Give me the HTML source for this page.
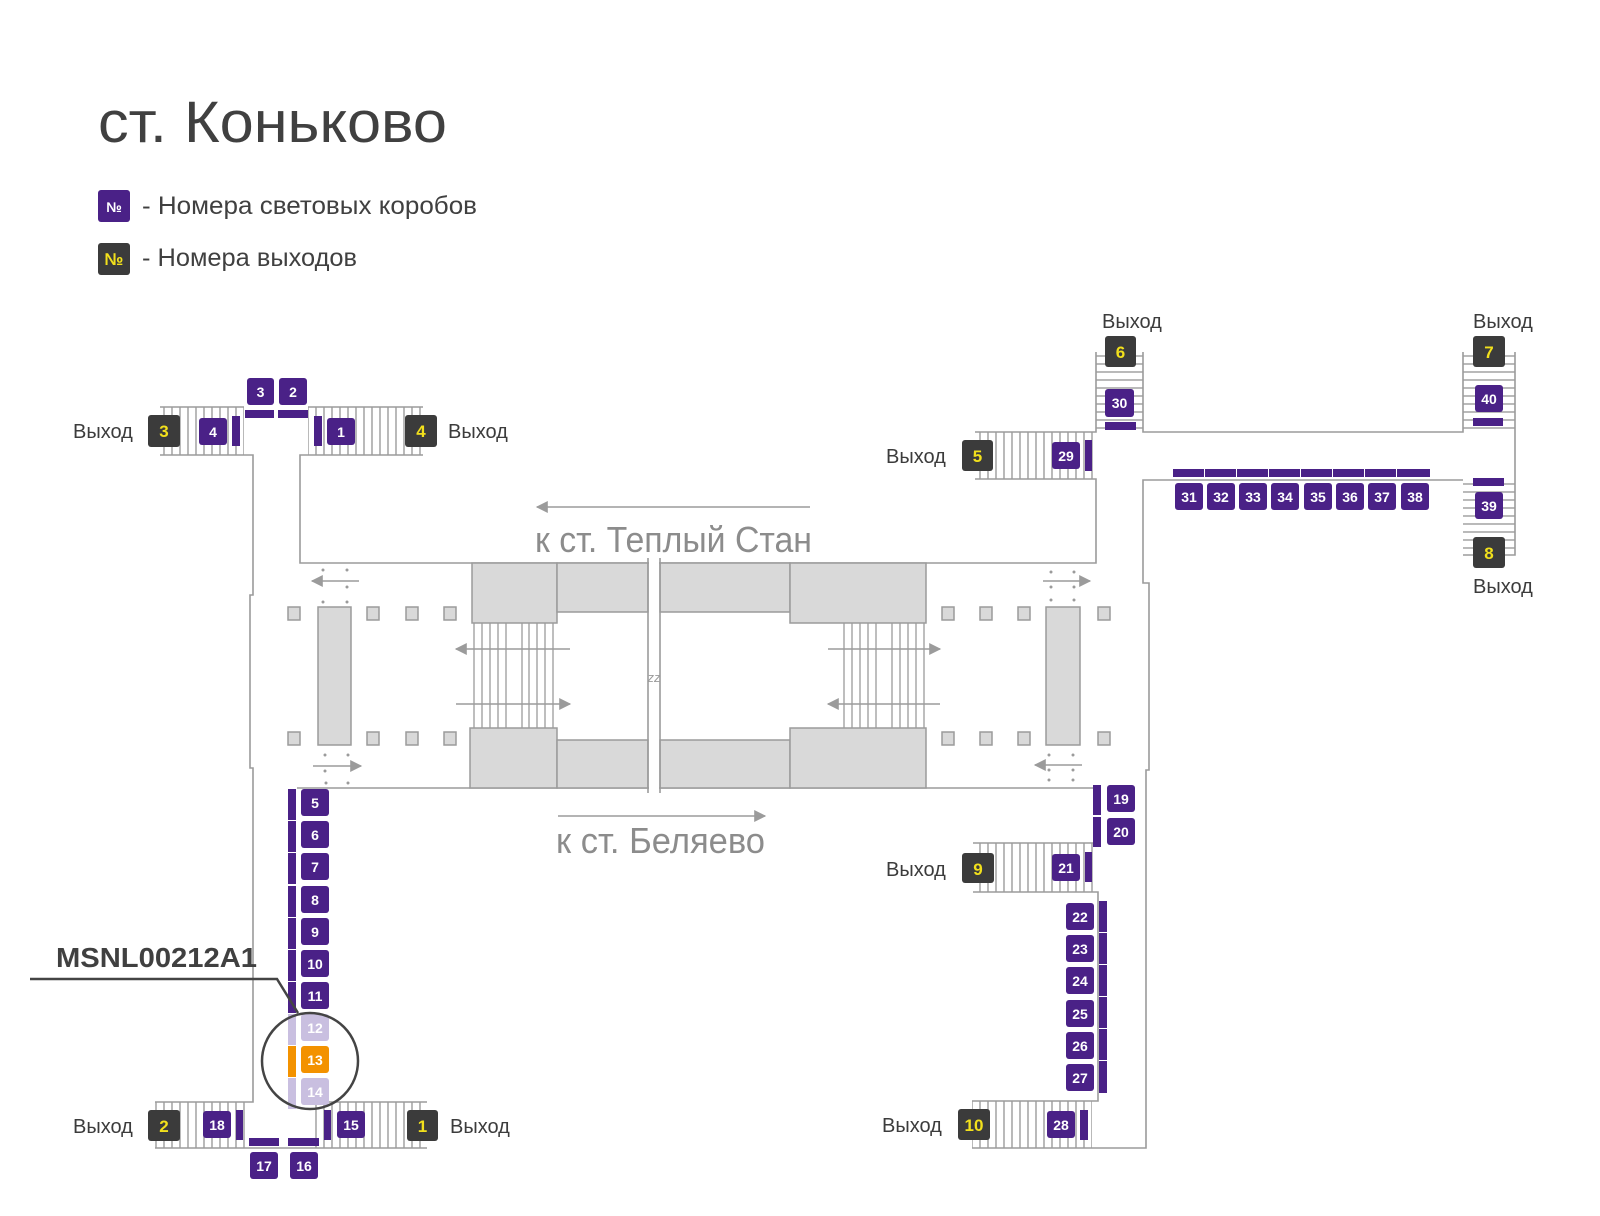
<!DOCTYPE html>
<html><head><meta charset="utf-8"><style>
html,body{margin:0;padding:0;background:#fff;}
svg{display:block;}
text{font-family:"Liberation Sans","DejaVu Sans",sans-serif;}
.p{fill:#4a2187}
.d{fill:#3b3b3b}
.bn{fill:#fff;font-size:14px;font-weight:bold;text-anchor:middle}
.en{fill:#f2e01c;font-size:17px;font-weight:bold;text-anchor:middle}
.ln{stroke:#9b9b9b;stroke-width:1.6;fill:none}
.g{fill:#d9d9d9;stroke:#9b9b9b;stroke-width:1.5}
.ex{fill:#3c3c3c;font-size:20px}
.dot{fill:#9b9b9b}
</style></head><body>
<svg width="1600" height="1216" viewBox="0 0 1600 1216" xmlns="http://www.w3.org/2000/svg">
<defs>
<pattern id="vh" width="8" height="10" patternUnits="userSpaceOnUse"><line x1="4" y1="0" x2="4" y2="10" stroke="#9b9b9b" stroke-width="1.4"/></pattern>
<pattern id="hh" width="10" height="8" patternUnits="userSpaceOnUse"><line x1="0" y1="4" x2="10" y2="4" stroke="#9b9b9b" stroke-width="1.4"/></pattern>
<marker id="ah" viewBox="0 0 10 10" refX="9" refY="5" markerWidth="9" markerHeight="8" orient="auto-start-reverse"><path d="M0,0 L10,5 L0,10 z" fill="#9b9b9b"/></marker>
</defs>

<text x="98" y="142" font-size="58" fill="#404040" textLength="349" lengthAdjust="spacingAndGlyphs">ст. Коньково</text>
<rect x="98" y="190" width="32" height="32" rx="3" class="p"/><text x="114" y="212" class="bn" font-size="15">№</text>
<text x="142" y="214" font-size="25" fill="#404040" textLength="335" lengthAdjust="spacingAndGlyphs">- Номера световых коробов</text>
<rect x="98" y="243" width="32" height="32" rx="3" class="d"/><text x="114" y="265" class="en" font-size="15">№</text>
<text x="142" y="266" font-size="25" fill="#404040" textLength="215" lengthAdjust="spacingAndGlyphs">- Номера выходов</text>

<g>
<rect x="160" y="407" width="84" height="48" fill="url(#vh)"/>
<rect x="308" y="407" width="115" height="48" fill="url(#vh)"/>
<rect x="975" y="432" width="120" height="47" fill="url(#vh)"/>
<rect x="973" y="843" width="120" height="49" fill="url(#vh)"/>
<rect x="972" y="1101" width="120" height="47" fill="url(#vh)"/>
<rect x="155" y="1102" width="92" height="46" fill="url(#vh)"/>
<rect x="312" y="1102" width="115" height="46" fill="url(#vh)"/>
<rect x="1096" y="352" width="47" height="80" fill="url(#hh)"/>
<rect x="1463" y="352" width="52" height="80" fill="url(#hh)"/>
<rect x="1463" y="480" width="52" height="75" fill="url(#hh)"/>
</g>

<g class="ln">
<path d="M160 407 H244 M308 407 H423"/>
<path d="M160 455 H253 V595 H250 V768 H253 V1102 H155"/>
<path d="M423 455 H300 V563 H1096 V479 H975"/>
<path d="M975 432 H1096 V352"/>
<path d="M1143 352 V432 H1463 V352"/>
<path d="M1515 352 V555 H1463"/>
<path d="M1463 480 H1143 V583 H1149 V770 H1146 V1148 H972"/>
<path d="M972 1101 H1098 V892 H973"/>
<path d="M973 843 H1093"/>
<path d="M297 788 H1093"/>
<path d="M155 1148 H427 M312 1102 H427"/>
</g>

<g>
<rect x="472" y="563" width="85" height="60" class="g"/>
<rect x="557" y="563" width="91" height="49" class="g"/>
<rect x="660" y="563" width="130" height="49" class="g"/>
<rect x="790" y="563" width="136" height="60" class="g"/>
<rect x="470" y="728" width="87" height="60" class="g"/>
<rect x="557" y="740" width="91" height="48" class="g"/>
<rect x="660" y="740" width="130" height="48" class="g"/>
<rect x="790" y="728" width="136" height="60" class="g"/>
<rect x="649" y="558" width="10" height="235" fill="#fff"/>
<line x1="648" y1="558" x2="648" y2="793" class="ln"/>
<line x1="660" y1="558" x2="660" y2="793" class="ln"/>
<text x="654" y="682" font-size="13" font-style="italic" fill="#9b9b9b" text-anchor="middle">zz</text>
</g>
<g stroke="#9b9b9b" stroke-width="1.3">
<path d="M474 623V728M482 623V728M490 623V728M498 623V728M506 623V728M522 623V728M529 623V728M537 623V728M545 623V728M553 623V728"/>
<path d="M844 623V728M852 623V728M860 623V728M868 623V728M876 623V728M892 623V728M900 623V728M908 623V728M916 623V728M924 623V728"/>
</g>
<g stroke="#9b9b9b" stroke-width="1.5" fill="none">
<line x1="570" y1="649" x2="456" y2="649" marker-end="url(#ah)"/>
<line x1="456" y1="704" x2="570" y2="704" marker-end="url(#ah)"/>
<line x1="828" y1="649" x2="940" y2="649" marker-end="url(#ah)"/>
<line x1="940" y1="704" x2="828" y2="704" marker-end="url(#ah)"/>
<line x1="359" y1="581" x2="312" y2="581" marker-end="url(#ah)"/>
<line x1="313" y1="766" x2="361" y2="766" marker-end="url(#ah)"/>
<line x1="1043" y1="581" x2="1090" y2="581" marker-end="url(#ah)"/>
<line x1="1082" y1="765" x2="1035" y2="765" marker-end="url(#ah)"/>
<line x1="810" y1="507" x2="537" y2="507" marker-end="url(#ah)"/>
<line x1="558" y1="816" x2="765" y2="816" marker-end="url(#ah)"/>
</g>
<g class="dot">
<circle cx="323" cy="570" r="1.5"/><circle cx="347" cy="570" r="1.5"/><circle cx="347" cy="587" r="1.5"/><circle cx="323" cy="602" r="1.5"/><circle cx="347" cy="602" r="1.5"/>
<circle cx="325" cy="755" r="1.5"/><circle cx="348" cy="755" r="1.5"/><circle cx="325" cy="771" r="1.5"/><circle cx="326" cy="783" r="1.5"/><circle cx="348" cy="783" r="1.5"/>
<circle cx="1051" cy="572" r="1.5"/><circle cx="1074" cy="572" r="1.5"/><circle cx="1051" cy="587" r="1.5"/><circle cx="1074" cy="587" r="1.5"/><circle cx="1051" cy="600" r="1.5"/><circle cx="1074" cy="600" r="1.5"/>
<circle cx="1049" cy="755" r="1.5"/><circle cx="1073" cy="755" r="1.5"/><circle cx="1049" cy="770" r="1.5"/><circle cx="1073" cy="770" r="1.5"/><circle cx="1049" cy="780" r="1.5"/><circle cx="1073" cy="780" r="1.5"/>
</g>
<g class="g">
<rect x="288" y="607" width="12" height="13"/><rect x="367" y="607" width="12" height="13"/><rect x="406" y="607" width="12" height="13"/><rect x="444" y="607" width="12" height="13"/>
<rect x="288" y="732" width="12" height="13"/><rect x="367" y="732" width="12" height="13"/><rect x="406" y="732" width="12" height="13"/><rect x="444" y="732" width="12" height="13"/>
<rect x="318" y="607" width="33" height="138"/>
<rect x="942" y="607" width="12" height="13"/><rect x="980" y="607" width="12" height="13"/><rect x="1018" y="607" width="12" height="13"/><rect x="1098" y="607" width="12" height="13"/>
<rect x="942" y="732" width="12" height="13"/><rect x="980" y="732" width="12" height="13"/><rect x="1018" y="732" width="12" height="13"/><rect x="1098" y="732" width="12" height="13"/>
<rect x="1046" y="607" width="34" height="138"/>
</g>

<text x="535" y="552" font-size="36" fill="#8c8c8c" textLength="277" lengthAdjust="spacingAndGlyphs">к ст. Теплый Стан</text>
<text x="556" y="853" font-size="36" fill="#8c8c8c" textLength="209" lengthAdjust="spacingAndGlyphs">к ст. Беляево</text>

<g class="p">
<rect x="232" y="416" width="8" height="30"/><rect x="314" y="416" width="8" height="30"/>
<rect x="245" y="410" width="29" height="8"/><rect x="278" y="410" width="30" height="8"/>
<rect x="1085" y="440" width="7" height="31"/>
<rect x="1105" y="422" width="31" height="8"/>
<rect x="1473" y="418" width="30" height="8"/>
<rect x="1473" y="478" width="31" height="8"/>
<rect x="1173" y="469" width="31" height="8"/><rect x="1205" y="469" width="31" height="8"/><rect x="1237" y="469" width="31" height="8"/><rect x="1269" y="469" width="31" height="8"/><rect x="1301" y="469" width="31" height="8"/><rect x="1333" y="469" width="31" height="8"/><rect x="1365" y="469" width="31" height="8"/><rect x="1397" y="469" width="33" height="8"/>
<rect x="1093" y="785" width="8" height="30"/><rect x="1093" y="817" width="8" height="30"/>
<rect x="1085" y="852" width="7" height="30"/>
<rect x="1099" y="901" width="8" height="31"/><rect x="1099" y="933" width="8" height="31"/><rect x="1099" y="965" width="8" height="31"/><rect x="1099" y="997" width="8" height="31"/><rect x="1099" y="1029" width="8" height="31"/><rect x="1099" y="1061" width="8" height="32"/>
<rect x="1080" y="1110" width="8" height="30"/>
<rect x="236" y="1110" width="7" height="30"/><rect x="324" y="1110" width="7" height="30"/>
<rect x="249" y="1138" width="30" height="8"/><rect x="288" y="1138" width="31" height="8"/>
<rect x="288" y="789" width="8" height="31"/><rect x="288" y="821" width="8" height="31"/><rect x="288" y="853" width="8" height="31"/><rect x="288" y="886" width="8" height="31"/><rect x="288" y="918" width="8" height="31"/><rect x="288" y="950" width="8" height="31"/><rect x="288" y="982" width="8" height="31"/>
</g>
<rect x="288" y="1014" width="8" height="31" fill="#c9bfe0"/>
<rect x="288" y="1046" width="8" height="31" fill="#f39200"/>
<rect x="288" y="1078" width="8" height="31" fill="#c9bfe0"/>

<g>
<rect x="247" y="378" width="27" height="27" rx="3" class="p"/><text x="260.5" y="397" class="bn">3</text>
<rect x="279" y="378" width="28" height="27" rx="3" class="p"/><text x="293" y="397" class="bn">2</text>
<rect x="199" y="418" width="28" height="27" rx="3" class="p"/><text x="213" y="437" class="bn">4</text>
<rect x="327" y="418" width="28" height="27" rx="3" class="p"/><text x="341" y="437" class="bn">1</text>
<rect x="1052" y="442" width="28" height="27" rx="3" class="p"/><text x="1066" y="461" class="bn">29</text>
<rect x="1105" y="389" width="29" height="28" rx="3" class="p"/><text x="1119.5" y="408" class="bn">30</text>
<rect x="1475" y="385" width="28" height="27" rx="3" class="p"/><text x="1489" y="404" class="bn">40</text>
<rect x="1475" y="492" width="28" height="27" rx="3" class="p"/><text x="1489" y="511" class="bn">39</text>
<rect x="1175" y="483" width="28" height="27" rx="3" class="p"/><text x="1189" y="502" class="bn">31</text>
<rect x="1207" y="483" width="28" height="27" rx="3" class="p"/><text x="1221" y="502" class="bn">32</text>
<rect x="1239" y="483" width="28" height="27" rx="3" class="p"/><text x="1253" y="502" class="bn">33</text>
<rect x="1271" y="483" width="28" height="27" rx="3" class="p"/><text x="1285" y="502" class="bn">34</text>
<rect x="1304" y="483" width="28" height="27" rx="3" class="p"/><text x="1318" y="502" class="bn">35</text>
<rect x="1336" y="483" width="28" height="27" rx="3" class="p"/><text x="1350" y="502" class="bn">36</text>
<rect x="1368" y="483" width="28" height="27" rx="3" class="p"/><text x="1382" y="502" class="bn">37</text>
<rect x="1401" y="483" width="28" height="27" rx="3" class="p"/><text x="1415" y="502" class="bn">38</text>
<rect x="1107" y="785" width="28" height="27" rx="3" class="p"/><text x="1121" y="804" class="bn">19</text>
<rect x="1107" y="818" width="28" height="27" rx="3" class="p"/><text x="1121" y="837" class="bn">20</text>
<rect x="1052" y="854" width="28" height="27" rx="3" class="p"/><text x="1066" y="873" class="bn">21</text>
<rect x="1066" y="903" width="28" height="27" rx="3" class="p"/><text x="1080" y="922" class="bn">22</text>
<rect x="1066" y="935" width="28" height="27" rx="3" class="p"/><text x="1080" y="954" class="bn">23</text>
<rect x="1066" y="967" width="28" height="27" rx="3" class="p"/><text x="1080" y="986" class="bn">24</text>
<rect x="1066" y="1000" width="28" height="27" rx="3" class="p"/><text x="1080" y="1019" class="bn">25</text>
<rect x="1066" y="1032" width="28" height="27" rx="3" class="p"/><text x="1080" y="1051" class="bn">26</text>
<rect x="1066" y="1064" width="28" height="27" rx="3" class="p"/><text x="1080" y="1083" class="bn">27</text>
<rect x="1047" y="1111" width="28" height="27" rx="3" class="p"/><text x="1061" y="1130" class="bn">28</text>
<rect x="301" y="789" width="28" height="27" rx="3" class="p"/><text x="315" y="808" class="bn">5</text>
<rect x="301" y="821" width="28" height="27" rx="3" class="p"/><text x="315" y="840" class="bn">6</text>
<rect x="301" y="853" width="28" height="27" rx="3" class="p"/><text x="315" y="872" class="bn">7</text>
<rect x="301" y="886" width="28" height="27" rx="3" class="p"/><text x="315" y="905" class="bn">8</text>
<rect x="301" y="918" width="28" height="27" rx="3" class="p"/><text x="315" y="937" class="bn">9</text>
<rect x="301" y="950" width="28" height="27" rx="3" class="p"/><text x="315" y="969" class="bn">10</text>
<rect x="301" y="982" width="28" height="27" rx="3" class="p"/><text x="315" y="1001" class="bn">11</text>
<rect x="301" y="1014" width="28" height="27" rx="3" fill="#c9bfe0"/><text x="315" y="1033" class="bn">12</text>
<rect x="301" y="1046" width="28" height="27" rx="3" fill="#f39200"/><text x="315" y="1065" class="bn">13</text>
<rect x="301" y="1078" width="28" height="27" rx="3" fill="#c9bfe0"/><text x="315" y="1097" class="bn">14</text>
<rect x="203" y="1111" width="28" height="27" rx="3" class="p"/><text x="217" y="1130" class="bn">18</text>
<rect x="337" y="1111" width="28" height="27" rx="3" class="p"/><text x="351" y="1130" class="bn">15</text>
<rect x="250" y="1152" width="28" height="27" rx="3" class="p"/><text x="264" y="1171" class="bn">17</text>
<rect x="290" y="1152" width="28" height="27" rx="3" class="p"/><text x="304" y="1171" class="bn">16</text>
</g>

<g>
<rect x="148" y="415" width="32" height="32" rx="3" class="d"/><text x="164" y="437" class="en">3</text>
<rect x="405" y="415" width="32" height="32" rx="3" class="d"/><text x="421" y="437" class="en">4</text>
<rect x="962" y="440" width="31" height="31" rx="3" class="d"/><text x="977.5" y="462" class="en">5</text>
<rect x="1105" y="336" width="31" height="31" rx="3" class="d"/><text x="1120.5" y="358" class="en">6</text>
<rect x="1473" y="336" width="32" height="31" rx="3" class="d"/><text x="1489" y="358" class="en">7</text>
<rect x="1473" y="537" width="32" height="31" rx="3" class="d"/><text x="1489" y="559" class="en">8</text>
<rect x="962" y="853" width="32" height="30" rx="3" class="d"/><text x="978" y="875" class="en">9</text>
<rect x="958" y="1109" width="32" height="31" rx="3" class="d"/><text x="974" y="1131" class="en">10</text>
<rect x="148" y="1110" width="32" height="31" rx="3" class="d"/><text x="164" y="1132" class="en">2</text>
<rect x="407" y="1110" width="31" height="31" rx="3" class="d"/><text x="422.5" y="1132" class="en">1</text>
</g>
<g class="ex">
<text x="73" y="438">Выход</text>
<text x="448" y="438">Выход</text>
<text x="886" y="463">Выход</text>
<text x="1102" y="328">Выход</text>
<text x="1473" y="328">Выход</text>
<text x="1473" y="593">Выход</text>
<text x="886" y="876">Выход</text>
<text x="882" y="1132">Выход</text>
<text x="73" y="1133">Выход</text>
<text x="450" y="1133">Выход</text>
</g>

<circle cx="310" cy="1061" r="48" fill="none" stroke="#444" stroke-width="2.5"/>
<path d="M30 979 H277 L298 1013" fill="none" stroke="#444" stroke-width="2.5"/>
<text x="56" y="967" font-size="28" font-weight="bold" fill="#404040" textLength="201" lengthAdjust="spacingAndGlyphs">MSNL00212A1</text>
</svg>
</body></html>
